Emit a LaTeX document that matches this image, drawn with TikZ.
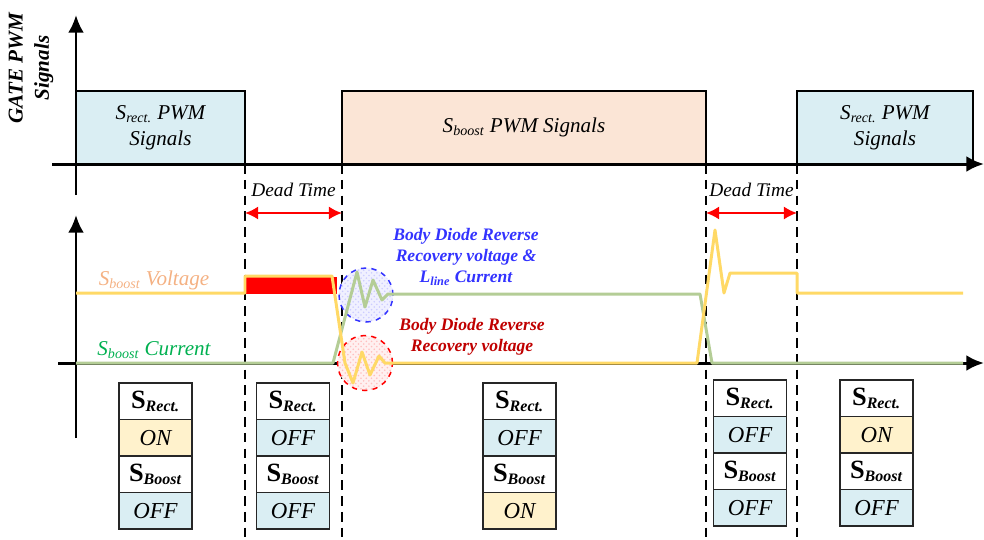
\documentclass[tikz,border=0pt]{standalone}
\usepackage{fontspec}
\setmainfont{Liberation Serif}
\usetikzlibrary{arrows.meta,positioning,patterns}
\definecolor{rectcolor}{RGB}{218,238,243}
\definecolor{boostcolor}{RGB}{251,229,214}
\definecolor{oncolor}{RGB}{255,242,204}
\definecolor{voltcolor}{RGB}{255,217,102}
\definecolor{currcolor}{RGB}{180,205,150}
\definecolor{voltlabel}{RGB}{244,177,131}
\definecolor{currlabel}{RGB}{0,176,80}
\definecolor{bluenote}{RGB}{51,51,255}
\definecolor{rednote}{RGB}{192,0,0}
\newcommand{\shead}[1]{\textbf{{\fontsize{15}{15}\selectfont S}\textsubscript{\itshape #1}}}

\begin{document}
\begin{tikzpicture}[x=0.02cm, y=-0.02cm,
    axis/.style={line width=1.7pt, -{Latex[length=10pt,width=9pt]}},
    pwmbox/.style={draw, line width=0.7pt, inner sep=0pt, minimum height=1.46cm, align=center, font=\fontsize{12}{15}\selectfont\itshape},
    deadline/.style={line width=0.85pt, dash pattern=on 5.5pt off 3.5pt},
    deadarrow/.style={red, line width=1.1pt, {Latex[length=7.5pt,width=7.5pt]}-{Latex[length=7.5pt,width=7.5pt]}},
    volt/.style={voltcolor, line width=1.7pt, line join=round},
    curr/.style={currcolor, line width=1.7pt, line join=round},
    cell/.style={draw=black!85, line width=1pt, minimum width=1.46cm, minimum height=0.73cm, inner sep=0pt, outer sep=0pt, font=\fontsize{13}{15}\selectfont},
    oncell/.style={fill=oncolor, font=\fontsize{13}{15}\selectfont\itshape},
    offcell/.style={fill=rectcolor, font=\fontsize{13}{15}\selectfont\itshape},
    note/.style={align=center, font=\fontsize{10}{12}\selectfont\bfseries\itshape}]

    \useasboundingbox (0,0) rectangle (984,539);

    % Gate PWM axis
    \coordinate (g0) at (76,195);
    \coordinate (g1) at (76,15);
    \coordinate (h0) at (52,164);
    \coordinate (h1) at (984,164);
    \node[rotate=90, align=center, font=\fontsize{12}{15}\selectfont\bfseries\itshape] (gatelbl) at (31,68) {GATE PWM\\Signals};

    % PWM signals
    \node[pwmbox, fill=rectcolor, minimum width=3.38cm] (rect1) at (160.5,127.5) {S\textsubscript{rect.} PWM\\Signals};
    \node[pwmbox, fill=boostcolor, minimum width=7.28cm] (boost) at (524,127.5) {S\textsubscript{boost} PWM Signals};
    \node[pwmbox, fill=rectcolor, minimum width=3.52cm] (rect2) at (885,127.5) {S\textsubscript{rect.} PWM\\Signals};
    \draw[axis] (h0) -- (h1);
    \draw[axis] (g0) -- (g1);

    % Dead time
    \foreach \x [count=\i] in {245,342,706,797} {
        \coordinate (d\i) at (\x,164);
        \coordinate (e\i) at (\x,539);
        \coordinate (a\i) at (\x,213);
        \draw[deadline] (d\i) -- (e\i);
    }
    \node[font=\fontsize{11}{13}\selectfont\itshape] (dt1) at (293.5,190) {Dead Time};
    \node[font=\fontsize{11}{13}\selectfont\itshape] (dt2) at (751.5,190) {Dead Time};
    \draw[deadarrow] (a1) -- (a2);
    \draw[deadarrow] (a3) -- (a4);

    % Switch waveform axis
    \coordinate (w0) at (76,438);
    \coordinate (w1) at (76,215);
    \coordinate (v0) at (58,363);
    \coordinate (v1) at (984,363);
    \draw[axis] (v0) -- (v1);
    \draw[axis] (w0) -- (w1);

    % Reverse recovery
    \fill[red] (245,277) rectangle (337,294);
    \node[circle, draw=bluenote, dashed, line width=0.85pt, minimum size=1.08cm, preaction={fill=blue!6}, pattern=crosshatch dots, pattern color=blue!20] (bcirc) at (366,295) {};
    \node[circle, draw=red, dashed, line width=0.85pt, minimum size=1.1cm, preaction={fill=red!6}, pattern=crosshatch dots, pattern color=red!25] (rcirc) at (365,363) {};

    % Waveforms
    \draw[curr] (76,363) -- (333,363) -- (357,272) -- (365,307) -- (373,280) -- (382,300) -- (388,294) -- (700,294) -- (712,363) -- (963,363);
    \draw[volt] (76,293) -- (245,293) -- (245,276) -- (332,276) -- (345,363) -- (353,383) -- (362,352) -- (370,375) -- (379,356) -- (385,363) -- (697,363) -- (715,230) -- (724,293) -- (730,273) -- (797,273) -- (797,293) -- (963,293);

    % Labels
    \node[voltlabel, font=\fontsize{12}{14}\selectfont\itshape] (vlbl) at (154,280) {S\textsubscript{boost} Voltage};
    \node[currlabel, font=\fontsize{12}{14}\selectfont\itshape] (clbl) at (154,350) {S\textsubscript{boost} Current};
    \node[note, bluenote] (bnote) at (466,257) {Body Diode Reverse\\Recovery voltage \&\\L\textsubscript{line} Current};
    \node[note, rednote] (rnote) at (472,337) {Body Diode Reverse\\Recovery voltage};

    % Switch states
    \foreach \x/\y/\rs/\rt/\bs/\bt [count=\n] in {155.5/383/oncell/ON/offcell/OFF, 293/383/offcell/OFF/offcell/OFF, 519.5/383/offcell/OFF/oncell/ON, 750/380/offcell/OFF/offcell/OFF, 876.5/380/oncell/ON/offcell/OFF} {
        \node[cell, fill=white, anchor=north] (r\n) at (\x,\y) {\shead{Rect.}};
        \node[cell, \rs, below=0pt of r\n] (rs\n) {\rt};
        \node[cell, fill=white, below=0pt of rs\n] (b\n) {\shead{Boost}};
        \node[cell, \bs, below=0pt of b\n] (bs\n) {\bt};
    }

\end{tikzpicture}
\end{document}
